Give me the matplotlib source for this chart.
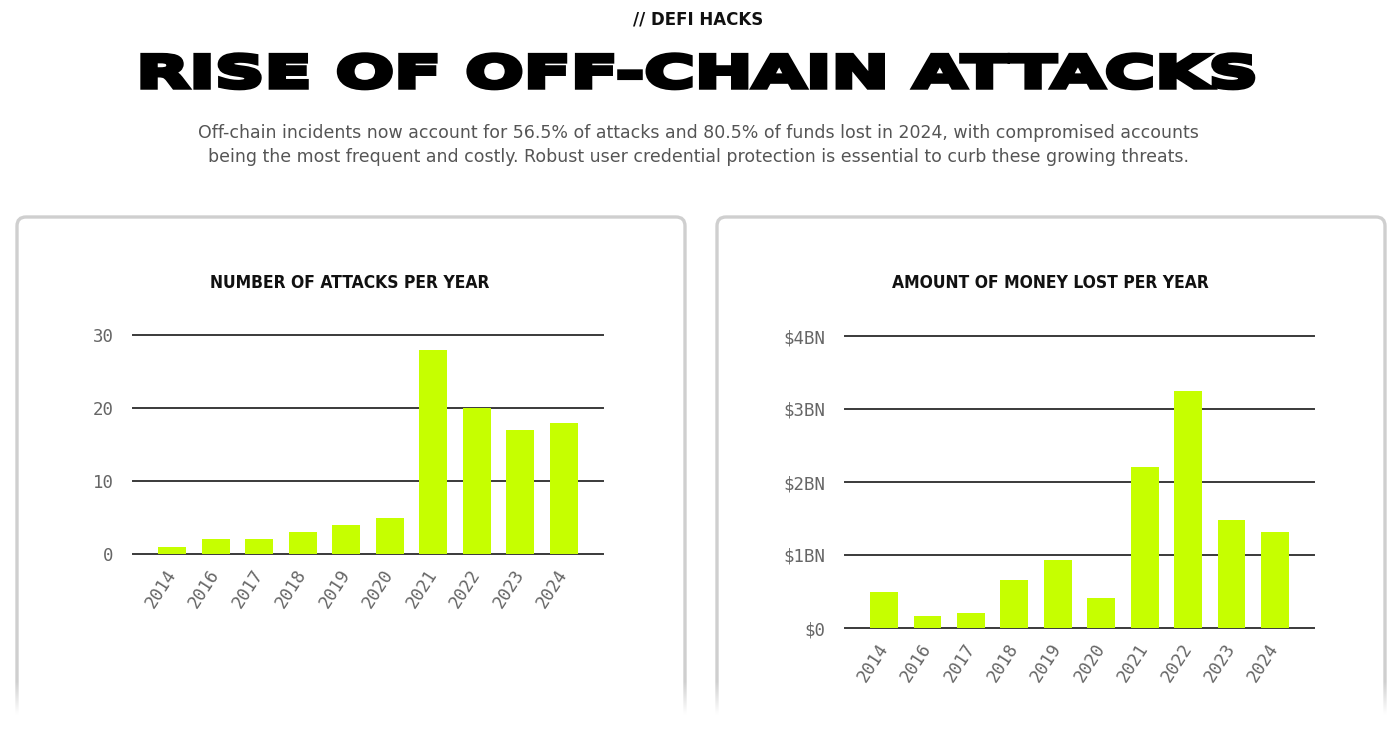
import numpy as np
import matplotlib
matplotlib.use("Agg")
import matplotlib.pyplot as plt
from matplotlib.patches import FancyBboxPatch
from matplotlib.patheffects import AbstractPathEffect
from matplotlib.transforms import Affine2D

W, H = 1397, 734

years = ["2014", "2016", "2017", "2018", "2019", "2020", "2021", "2022", "2023", "2024"]
attacks = [1, 2, 2, 3, 4, 5, 28, 20, 17, 18]
money_bn = [0.50, 0.17, 0.21, 0.66, 0.93, 0.41, 2.20, 3.25, 1.48, 1.31]
attack_ticks = [0, 10, 20, 30]
money_ticks = [0, 1, 2, 3, 4]
money_tick_labels = ["$0", "$1BN", "$2BN", "$3BN", "$4BN"]

LIME = "#c6ff00"
GRID = "#3a3a3a"
TICK = "#666666"


class WideHeavy(AbstractPathEffect):
    # stretch glyphs sideways around a centre x and thicken them
    def __init__(self, cx, sx, stroke):
        super().__init__()
        self.cx, self.sx, self.stroke = cx, sx, stroke

    def draw_path(self, renderer, gc, tpath, affine, rgbFace=None):
        aff = affine + Affine2D().translate(-self.cx, 0).scale(self.sx, 1).translate(self.cx, 0)
        gc0 = renderer.new_gc()
        gc0.copy_properties(gc)
        gc0.set_linewidth(self.stroke)
        gc0.set_foreground(rgbFace)
        gc0.set_joinstyle("miter")
        renderer.draw_path(gc0, tpath, aff, rgbFace)
        gc0.restore()


def px_box(x0, y_top, x1, y_bottom):
    # pixel box (top-left origin) -> figure fraction [l, b, w, h]
    return [x0 / W, (H - y_bottom) / H, (x1 - x0) / W, (y_bottom - y_top) / H]


def draw_card(fig, x0, x1, y_top):
    card = FancyBboxPatch((x0 / 100, -0.5), (x1 - x0) / 100, (H - y_top) / 100 + 0.5,
                          boxstyle="round,pad=0,rounding_size=0.09",
                          transform=fig.dpi_scale_trans, facecolor="white",
                          edgecolor="#cfcfcf", linewidth=2.4, zorder=-5)
    fig.patches.append(card)


def bar_chart(fig, box, values, ticks, ticklabels, ymax, title, title_xy):
    ax = fig.add_axes(box)
    x = np.arange(len(values))
    for t in ticks:
        ax.axhline(t, color=GRID, linewidth=1.4, zorder=1, clip_on=False)
    ax.bar(x, values, width=0.64, color=LIME, zorder=2)
    ax.set_xlim(-0.9, len(values) - 0.1)
    ax.set_ylim(0, ymax)
    ax.set_yticks(ticks)
    ax.set_yticklabels(ticklabels, family="DejaVu Sans Mono", fontsize=12.5, color=TICK)
    ax.set_xticks(x)
    ax.set_xticklabels(years, family="DejaVu Sans Mono", fontsize=12.5, color=TICK,
                       rotation=57, ha="right", va="center", rotation_mode="anchor")
    ax.tick_params(axis="y", length=0, pad=14)
    ax.tick_params(axis="x", length=0, pad=12)
    for s in ax.spines.values():
        s.set_visible(False)
    ax.patch.set_alpha(0)
    fig.text(title_xy[0] / W, 1 - title_xy[1] / H, title, ha="center", va="center",
             fontsize=12.5, fontweight="bold", family="DejaVu Sans", stretch="condensed",
             color="#111111")
    return ax


def main():
    fig = plt.figure(figsize=(W / 100, H / 100), dpi=100)
    fig.patch.set_facecolor("white")

    fig.text(0.5, 1 - 19 / H, "// DEFI HACKS", ha="center", va="center",
             fontsize=12, fontweight="bold", color="#111111")
    fig.text(0.5, 1 - 75 / H, "RISE OF OFF-CHAIN ATTACKS", ha="center", va="center",
             fontsize=32, fontweight="heavy", color="black",
             path_effects=[WideHeavy(W / 2, 1.55, 3.2)])
    fig.text(0.5, 1 - 145 / H,
             "Off-chain incidents now account for 56.5% of attacks and 80.5% of funds lost in 2024, with compromised accounts\n"
             "being the most frequent and costly. Robust user credential protection is essential to curb these growing threats.",
             ha="center", va="center", fontsize=12.5, color="#555555", linespacing=1.45)

    draw_card(fig, 17, 685, 217)
    draw_card(fig, 717, 1385, 217)

    bar_chart(fig, px_box(133, 335, 603, 554), attacks, attack_ticks,
              [str(t) for t in attack_ticks], 30, "NUMBER OF ATTACKS PER YEAR", (350, 283))
    bar_chart(fig, px_box(845, 336, 1314, 628), money_bn, money_ticks,
              money_tick_labels, 4, "AMOUNT OF MONEY LOST PER YEAR", (1050, 283))

    # fade out the bottom of the cards
    fade = fig.add_axes(px_box(0, 682, W, H))
    grad = np.ones((100, 2, 4))
    grad[:, :, 3] = np.clip(np.linspace(0, 1.6, 100), 0, 1)[:, None]
    fade.imshow(grad, aspect="auto", origin="upper", extent=(0, 1, 0, 1))
    fade.set_axis_off()

    fig.savefig("out.png", dpi=100, facecolor="white")


if __name__ == "__main__":
    main()
